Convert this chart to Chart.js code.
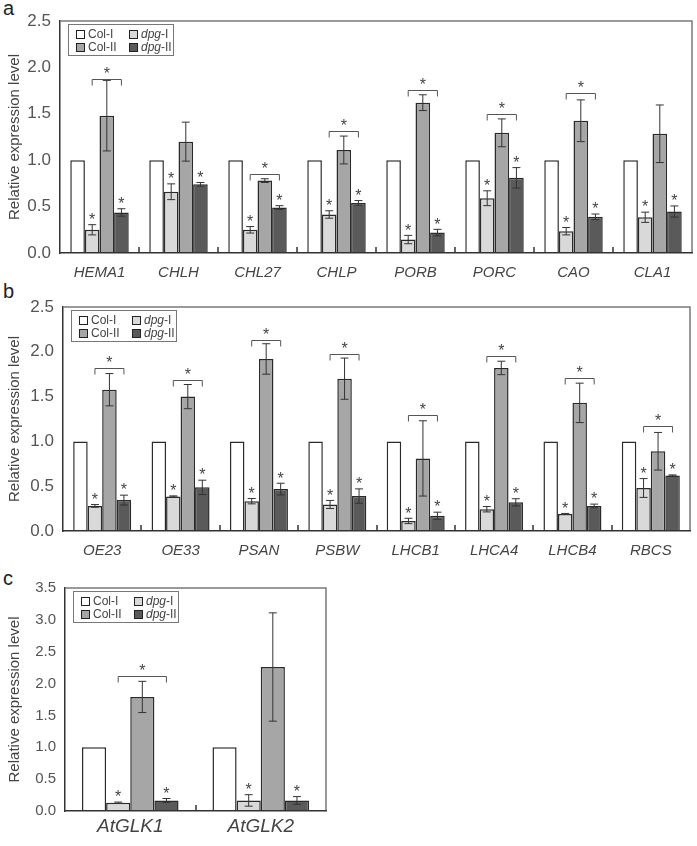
<!DOCTYPE html>
<html>
<head>
<meta charset="utf-8">
<script src="https://cdn.jsdelivr.net/npm/chart.js@4"></script>
<style>
body { margin: 0; background: #fff; width: 697px; height: 846px; position: relative; overflow: hidden; font-family: "Liberation Sans", Arial, sans-serif; }
canvas { position: absolute; left: 0; }
.tag { position: absolute; left: 3px; font-size: 20px; line-height: 20px; color: #222; }
</style>
</head>
<body>
<div class="tag" style="top:-2px">a</div>
<div class="tag" style="top:281px">b</div>
<div class="tag" style="top:568px">c</div>
<canvas id="chartA" width="697" height="285" style="top:0"></canvas>
<canvas id="chartB" width="697" height="285" style="top:285px"></canvas>
<canvas id="chartC" width="345" height="276" style="top:570px"></canvas>
<script>
// Series names and fills
const seriesNames = ['Col-I', 'dpg-I', 'Col-II', 'dpg-II'];
const seriesFills = ['#ffffff', '#d9d9d9', '#a6a6a6', '#5a5a5a'];

// Panel a - chlorophyll biosynthesis genes
const genesA = ['HEMA1', 'CHLH', 'CHL27', 'CHLP', 'PORB', 'PORC', 'CAO', 'CLA1'];
const colIA = [1, 1, 1, 1, 1, 1, 1, 1];
const dpgIA = [0.25, 0.66, 0.25, 0.415, 0.145, 0.59, 0.235, 0.385];
const dpgIErrA = [0.055, 0.085, 0.035, 0.04, 0.045, 0.08, 0.04, 0.055];
const colIIA = [1.48, 1.20, 0.78, 1.11, 1.62, 1.295, 1.425, 1.285];
const colIIErrA = [0.38, 0.21, 0.02, 0.15, 0.085, 0.15, 0.225, 0.31];
const dpgIIA = [0.437, 0.74, 0.49, 0.54, 0.22, 0.81, 0.39, 0.447];
const dpgIIErrA = [0.04, 0.02, 0.02, 0.025, 0.035, 0.11, 0.03, 0.06];
const bracketA = [1.88, null, 0.85, 1.31, 1.76, 1.50, 1.72, null];

// Panel b - photosynthesis genes
const genesB = ['OE23', 'OE33', 'PSAN', 'PSBW', 'LHCB1', 'LHCA4', 'LHCB4', 'RBCS'];
const colIB = [1, 1, 1, 1, 1, 1, 1, 1];
const dpgIB = [0.28, 0.386, 0.333, 0.296, 0.112, 0.243, 0.19, 0.48];
const dpgIErrB = [0.015, 0.006, 0.03, 0.045, 0.03, 0.03, 0.006, 0.105];
const colIIB = [1.577, 1.50, 1.92, 1.70, 0.81, 1.82, 1.43, 0.89];
const colIIErrB = [0.18, 0.135, 0.17, 0.23, 0.42, 0.075, 0.22, 0.21];
const dpgIIB = [0.345, 0.487, 0.468, 0.39, 0.17, 0.32, 0.28, 0.62];
const dpgIIErrB = [0.055, 0.08, 0.065, 0.08, 0.04, 0.04, 0.02, 0.006];
const bracketB = [1.82, 1.69, 2.13, 1.98, 1.30, 1.95, 1.71, 1.17];

// Panel c - GLK genes
const genesC = ['AtGLK1', 'AtGLK2'];
const colIC = [1, 1];
const dpgIC = [0.13, 0.166];
const dpgIErrC = [0.01, 0.09];
const colIIC = [1.79, 2.26];
const colIIErrC = [0.245, 0.85];
const dpgIIC = [0.166, 0.166];
const dpgIIErrC = [0.03, 0.06];
const bracketC = [2.12, null];

const FONT = '"Liberation Sans", Arial, sans-serif';
Chart.defaults.font.family = FONT;

function drawStar(ctx, x, cy, size) {
    ctx.fillStyle = '#444';
    ctx.font = size + 'px ' + FONT;
    ctx.textAlign = 'center';
    ctx.textBaseline = 'alphabetic';
    ctx.fillText('*', x, cy + size * 0.58);
}

// Error bars, significance marks, group ticks, frame and legend
const extras = {
    id: 'extras',
    afterDatasetsDraw(chart, args, opts) {
        const { ctx, chartArea: a, scales: { x, y } } = chart;
        ctx.save();

        // top / right frame
        ctx.strokeStyle = '#7a7a7a';
        ctx.lineWidth = 1.5;
        ctx.beginPath();
        ctx.moveTo(a.left, a.top);
        ctx.lineTo(a.right, a.top);
        ctx.lineTo(a.right, a.bottom);
        ctx.stroke();

        // small ticks between gene groups
        ctx.strokeStyle = '#333';
        ctx.lineWidth = 1.5;
        const n = chart.data.labels.length;
        for (let i = 1; i < n; i++) {
            const bx = Math.round((x.getPixelForValue(i - 1) + x.getPixelForValue(i)) / 2);
            ctx.beginPath();
            ctx.moveTo(bx, a.bottom);
            ctx.lineTo(bx, a.bottom - 6);
            ctx.stroke();
        }

        // error bars and stars
        chart.data.datasets.forEach((ds, k) => {
            const meta = chart.getDatasetMeta(k);
            meta.data.forEach((bar, i) => {
                const v = ds.data[i];
                const e = ds.errors ? ds.errors[i] : 0;
                let top = y.getPixelForValue(v);
                if (e) {
                    const y1 = y.getPixelForValue(v + e);
                    const y2 = y.getPixelForValue(Math.max(0, v - e));
                    ctx.strokeStyle = '#333';
                    ctx.lineWidth = 1;
                    ctx.beginPath();
                    ctx.moveTo(bar.x, y1); ctx.lineTo(bar.x, y2);
                    ctx.moveTo(bar.x - 4, y1); ctx.lineTo(bar.x + 4, y1);
                    ctx.moveTo(bar.x - 4, y2); ctx.lineTo(bar.x + 4, y2);
                    ctx.stroke();
                    top = Math.min(y1, top);
                }
                if (ds.star) drawStar(ctx, bar.x, top - 9, opts.starSize);
            });
        });

        // brackets between dpg-I and dpg-II
        const m1 = chart.getDatasetMeta(1);
        const m3 = chart.getDatasetMeta(3);
        opts.levels.forEach((h, i) => {
            if (h == null) return;
            const by = Math.round(y.getPixelForValue(h)) + 0.5;
            const x1 = m1.data[i].x, x2 = m3.data[i].x;
            ctx.strokeStyle = '#555';
            ctx.lineWidth = 1;
            ctx.beginPath();
            ctx.moveTo(x1, by + 6); ctx.lineTo(x1, by); ctx.lineTo(x2, by); ctx.lineTo(x2, by + 6);
            ctx.stroke();
            drawStar(ctx, (x1 + x2) / 2, by - 10, opts.starSize);
        });

        // legend box
        const lx = a.left + 8, ly = a.top + 3, lw = 105, lh = 31;
        ctx.fillStyle = '#fff';
        ctx.fillRect(lx, ly, lw, lh);
        ctx.strokeStyle = '#777';
        ctx.lineWidth = 1;
        ctx.strokeRect(lx + 0.5, ly + 0.5, lw, lh);
        chart.data.datasets.forEach((ds, k) => {
            const col = k % 2, row = Math.floor(k / 2);
            const sx = lx + 8 + col * 53, sy = ly + 10 + row * 13;
            ctx.fillStyle = ds.backgroundColor;
            ctx.fillRect(sx, sy - 4, 8, 8);
            ctx.strokeStyle = '#222';
            ctx.strokeRect(sx + 0.5, sy - 3.5, 8, 8);
            let tx = sx + 12;
            ctx.fillStyle = '#444';
            ctx.textAlign = 'left';
            ctx.textBaseline = 'middle';
            const parts = ds.label.startsWith('dpg') ? [['dpg', 'italic '], [ds.label.slice(3), '']] : [[ds.label, '']];
            parts.forEach(([t, st]) => {
                ctx.font = st + '12px ' + FONT;
                ctx.fillText(t, tx, sy + 0.5);
                tx += ctx.measureText(t).width;
            });
        });
        ctx.restore();
    }
};

function buildChart(id, labels, values, errors, brackets, yMax, box) {
    const datasets = seriesNames.map((name, k) => ({
        label: name,
        data: values[k],
        errors: errors[k],
        star: k === 1 || k === 3,
        backgroundColor: seriesFills[k],
        borderColor: '#2a2a2a',
        borderWidth: 1.5,
        categoryPercentage: 0.74,
        barPercentage: 1
    }));
    return new Chart(document.getElementById(id), {
        type: 'bar',
        data: { labels: labels, datasets: datasets },
        options: {
            responsive: false,
            animation: false,
            layout: { padding: { top: box.top, right: box.right, left: 0, bottom: 0 } },
            plugins: {
                legend: { display: false },
                tooltip: { enabled: false },
                extras: { levels: brackets, starSize: 16 }
            },
            scales: {
                x: {
                    grid: { drawOnChartArea: false, drawTicks: false },
                    border: { color: '#333', width: 1.5, z: 1 },
                    ticks: { color: '#444', padding: box.xpad, font: { size: box.xfont, style: 'italic' } },
                    afterFit(s) { s.height = box.xh; }
                },
                y: {
                    min: 0,
                    max: yMax,
                    grid: { drawOnChartArea: false, drawTicks: false },
                    border: { color: '#333', width: 1.5 },
                    ticks: { stepSize: 0.5, color: '#555', padding: 9, font: { size: box.yfont }, callback: v => v.toFixed(1) },
                    title: { display: true, text: 'Relative expression level', color: '#444', font: { size: 15 }, padding: { top: 6, bottom: 0 } },
                    afterFit(s) { s.width = box.yw; }
                }
            }
        },
        plugins: [extras]
    });
}

buildChart('chartA', genesA,
    [colIA, dpgIA, colIIA, dpgIIA],
    [null, dpgIErrA, colIIErrA, dpgIIErrA],
    bracketA, 2.5,
    { top: 21, right: 5, yw: 60, xh: 32, xpad: 11, xfont: 15, yfont: 17 });

buildChart('chartB', genesB,
    [colIB, dpgIB, colIIB, dpgIIB],
    [null, dpgIErrB, colIIErrB, dpgIIErrB],
    bracketB, 2.5,
    { top: 22, right: 7, yw: 63, xh: 39, xpad: 11, xfont: 15, yfont: 17 });

buildChart('chartC', genesC,
    [colIC, dpgIC, colIIC, dpgIIC],
    [null, dpgIErrC, colIIErrC, dpgIIErrC],
    bracketC, 3.5,
    { top: 16, right: 19, yw: 65, xh: 35, xpad: 4, xfont: 19, yfont: 15 });
</script>
</body>
</html>
